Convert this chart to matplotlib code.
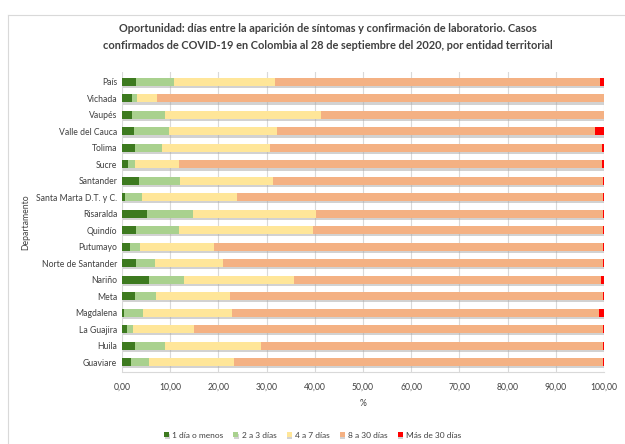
import numpy as np
import matplotlib.pyplot as plt
import matplotlib.patheffects as pe

plt.rcParams['font.family'] = ['Lato', 'DejaVu Sans']

deptos = ["Guaviare", "Huila", "La Guajira", "Magdalena", "Meta", "Nariño",
          "Norte de Santander", "Putumayo", "Quindío", "Risaralda",
          "Santa Marta D.T. y C.", "Santander", "Sucre", "Tolima",
          "Valle del Cauca", "Vaupés", "Vichada", "País"]

# cumulative end points (%)
fin_1 = [1.8, 2.7, 1.0, 0.5, 2.6, 5.5, 3.0, 1.7, 3.0, 5.2, 0.6, 3.5, 1.2, 2.8, 2.4, 2.0, 2.0, 2.9]
fin_2 = [5.7, 9.0, 2.3, 4.4, 7.0, 12.9, 6.8, 3.8, 11.8, 14.7, 4.1, 12.0, 2.8, 8.3, 9.7, 8.9, 3.1, 10.7]
fin_3 = [23.2, 28.8, 14.9, 22.8, 22.4, 35.7, 20.9, 19.0, 39.6, 40.2, 23.8, 31.3, 11.9, 30.8, 32.1, 41.3, 7.3, 31.8]
mas_30 = [0.2, 0.3, 0.3, 1.1, 0.2, 0.6, 0.3, 0.3, 0.2, 0.2, 0.2, 0.2, 0.4, 0.4, 1.9, 0.0, 0.0, 0.9]

d1 = np.array(fin_1)
d2 = np.array(fin_2) - d1
d3 = np.array(fin_3) - np.array(fin_2)
d5 = np.array(mas_30)
d4 = 100 - np.array(fin_3) - d5

series = [d1, d2, d3, d4, d5]
nombres = ["1 día o menos", "2 a 3 días", "4 a 7 días", "8 a 30 días", "Más de 30 días"]
colores = ["#3d7a1f", "#a9d18e", "#ffe699", "#f4b183", "#ff0000"]

fig = plt.figure(figsize=(6.25, 4.44), dpi=100)
ax = fig.add_axes([122/625, 1 - 372/444, 482/625, 300/444])

y = np.arange(len(deptos))
izq = np.zeros(len(deptos))
sombra = [pe.SimplePatchShadow(offset=(0.5, -1.5), shadow_rgbFace='#a6a6a6', alpha=0.5), pe.Normal()]
for s, n, c in zip(series, nombres, colores):
    barras = ax.barh(y, s, left=izq, height=0.5, color=c, label=n, zorder=3)
    for b in barras:
        b.set_path_effects(sombra)
    izq = izq + s

ax.set_xlim(0, 100)
ax.set_ylim(-0.6, len(deptos) - 0.4)
ax.set_xticks(np.arange(0, 101, 10))
ax.set_xticklabels([f"{v:.2f}".replace(".", ",") for v in np.arange(0, 101, 10)])
ax.set_yticks(y)
ax.set_yticklabels(deptos)
ax.tick_params(axis='both', labelsize=6.2, colors='#404040', length=0)
ax.tick_params(axis='x', pad=8)
ax.grid(axis='x', color='#d9d9d9', lw=0.8, zorder=0)
for sp in ax.spines.values():
    sp.set_visible(False)
ax.spines['bottom'].set_visible(True)
ax.spines['bottom'].set_color('#d9d9d9')

ax.set_xlabel("%", fontsize=6.2, color='#404040', labelpad=5)
ax.set_ylabel("Departamento", fontsize=6.2, color='#404040')
ax.yaxis.set_label_coords(-0.19, 0.5)

fig.text(328/625, 1 - 37/444,
         "Oportunidad: días entre la aparición de síntomas y confirmación de laboratorio. Casos\n"
         "confirmados de COVID-19 en Colombia al 28 de septiembre del 2020, por entidad territorial",
         ha='center', va='center', fontsize=7.9, fontweight='bold', color='#404040', linespacing=1.6)

fig.legend(loc='center', bbox_to_anchor=(0.5, 1 - 435/444), ncol=5, fontsize=6,
           frameon=False, handlelength=0.6, handleheight=0.6, handletextpad=0.4,
           columnspacing=1.2, labelcolor='#404040')

# marco del gráfico
fig.add_artist(plt.Line2D([8/625, 8/625], [0, 1 - 15/444], color='#d9d9d9', lw=0.8))
fig.add_artist(plt.Line2D([8/625, 1], [1 - 15/444, 1 - 15/444], color='#d9d9d9', lw=0.8))

fig.savefig("out.png", dpi=100)
